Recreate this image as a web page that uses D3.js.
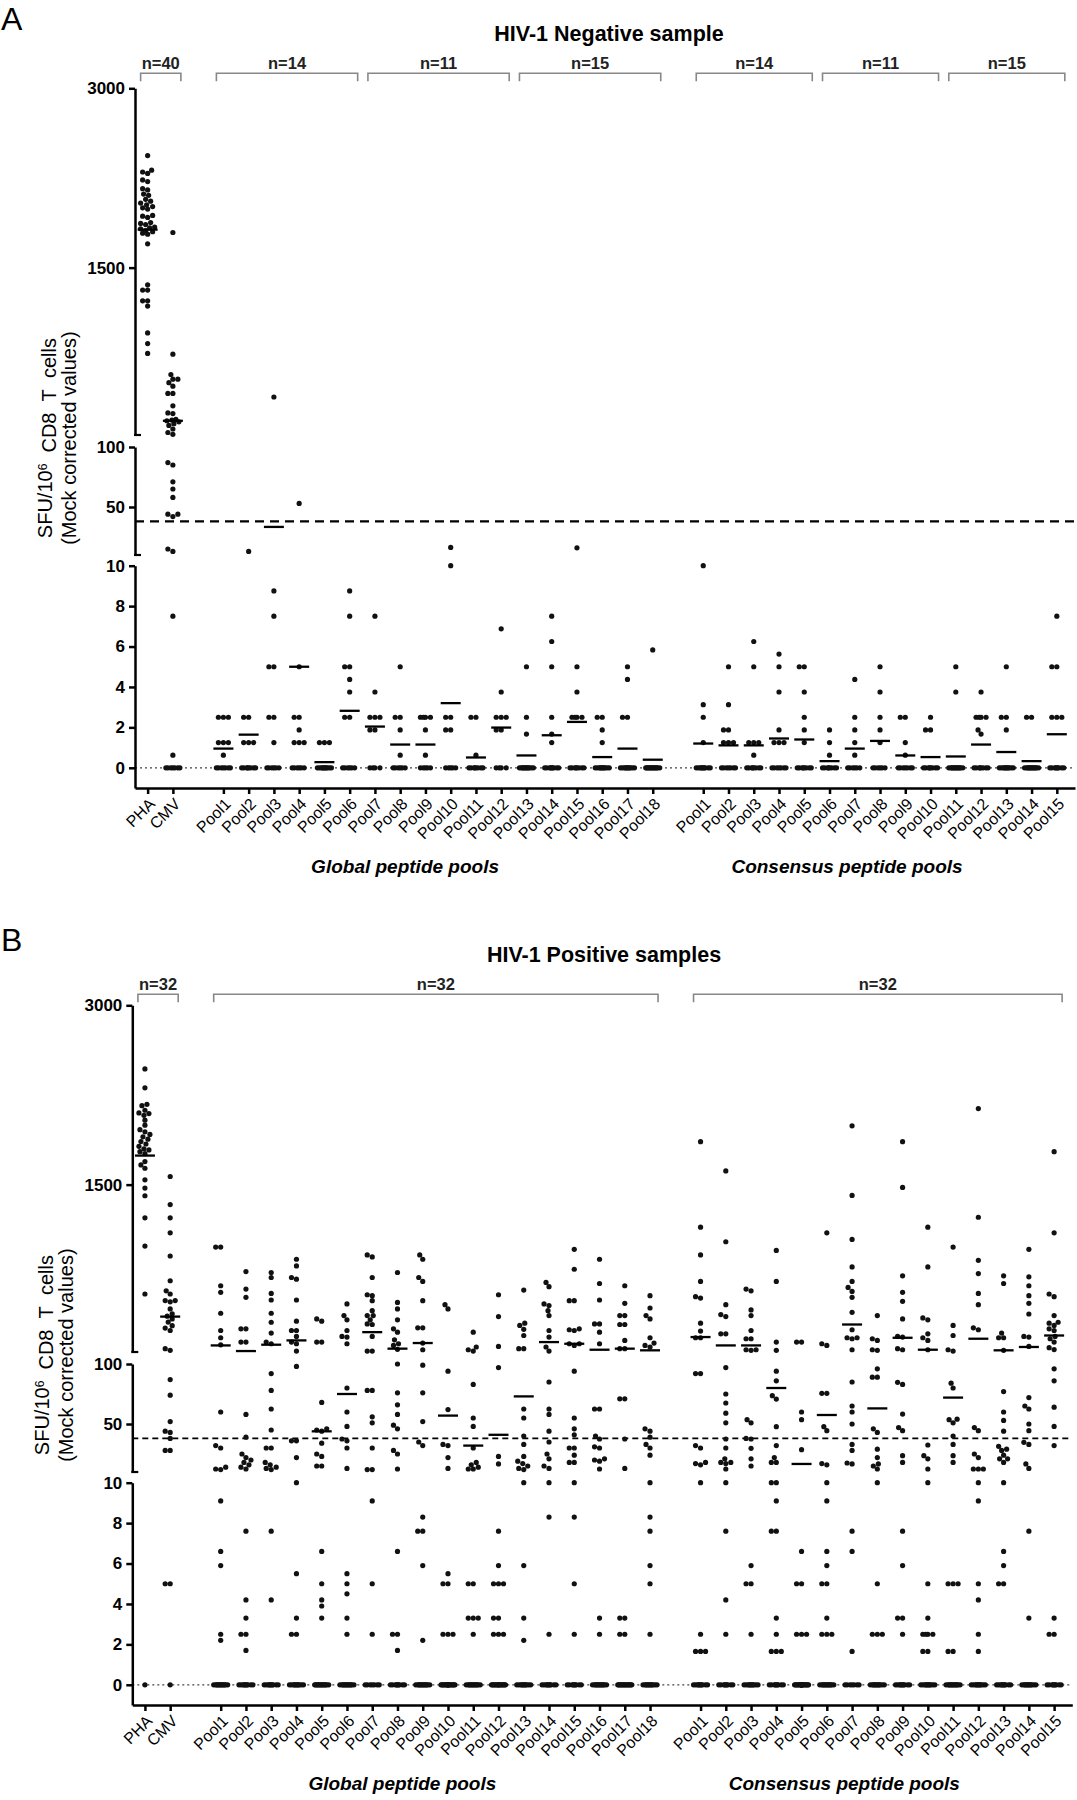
<!DOCTYPE html>
<html>
<head>
<meta charset="utf-8">
<script src="https://cdn.jsdelivr.net/npm/d3@7"></script>
<style>
    body { margin: 0; background: #fff; }
    svg { display: block; font-family: Arial, "Liberation Sans", Helvetica, sans-serif; }
    .axis path, .axis line { stroke: #000; stroke-width: 2.5; }
    .axis text { fill: #000; }
    .yaxis text { font-size: 17px; font-weight: bold; }
    .xaxis text { font-size: 16px; }
</style>
</head>
<body>
<div id="chart"></div>
<script>
// ---- categories ----
var controlLabels = ["PHA", "CMV"];
var globalLabels = ["Pool1", "Pool2", "Pool3", "Pool4", "Pool5", "Pool6", "Pool7", "Pool8", "Pool9",
    "Pool10", "Pool11", "Pool12", "Pool13", "Pool14", "Pool15", "Pool16", "Pool17", "Pool18"];
var consensusLabels = ["Pool1", "Pool2", "Pool3", "Pool4", "Pool5", "Pool6", "Pool7", "Pool8",
    "Pool9", "Pool10", "Pool11", "Pool12", "Pool13", "Pool14", "Pool15"];
var groupTitles = ["Global peptide pools", "Consensus peptide pools"];

// ---- y axis ticks (broken axis) ----
var topTicks = [1500, 3000];
var midTicks = [50, 100];
var lowTicks = [0, 2, 4, 6, 8, 10];
var threshold = 38;

// ---- HIV-1 negative sample: non-zero values, number of zero values, means ----
var negControlValues = [
    [2437, 2315, 2300, 2288, 2234, 2220, 2160, 2150, 2115, 2105, 2071, 2056, 2040, 2026, 2011, 2000,
     1990, 1937, 1930, 1920, 1877, 1870, 1860, 1840, 1833, 1825, 1810, 1800, 1788, 1780, 1699,
     1356, 1312, 1312, 1222, 1222, 1178, 954, 865, 782],
    [1794, 776, 606, 567, 567, 538, 508, 448, 448, 344, 285, 279, 230, 225, 219, 210, 195, 180, 150,
     121, 106, 87, 85, 71, 65, 58, 44, 44, 42, 15, 13, 7.5, 0.625]
];
var negControlZeros = [0, 7];
var negControlMeans = [1818, 219];

var negGlobalValues = [
    [2.5, 2.5, 2.5, 1.25, 1.25, 1.25, 0.625],
    [13, 2.5, 2.5, 1.25, 1.25, 1.25],
    [418, 8.75, 7.5, 5, 5, 2.5, 2.5, 1.25],
    [53, 5, 2.5, 2.5, 1.875, 1.25, 1.25, 1.25],
    [1.25, 1.25, 1.25],
    [8.75, 7.5, 5, 5, 4.375, 3.75, 2.5, 2.5],
    [7.5, 3.75, 2.5, 2.5, 2.5, 1.875, 1.875],
    [5, 2.5, 2.5, 1.875, 0.625],
    [2.5, 2.5, 2.5, 2.5, 1.875, 0.625],
    [16.3, 10, 2.5, 2.5, 1.875, 1.875],
    [2.5, 2.5, 0.625],
    [6.875, 3.75, 2.5, 2.5, 2.5, 1.875, 1.875],
    [5, 2.5, 1.667],
    [7.5, 6.25, 5, 2.5, 1.667, 1.25],
    [16, 5, 3.75, 2.5, 2.5, 2.5, 2.5],
    [2.5, 2.5, 1.875, 1.25],
    [5, 4.375, 2.5, 2.5],
    [5.833]
];
var negGlobalZeros = [7, 8, 6, 6, 11, 6, 4, 6, 5, 5, 8, 4, 12, 9, 8, 11, 11, 14];
var negGlobalMeans = [0.95, 1.64, 33.4, 5, 0.28, 2.82, 2.04, 1.15, 1.15, 3.2, 0.51, 1.99, 0.61, 1.61,
    2.27, 0.53, 0.95, 0.4];

var negConsensusValues = [
    [10, 3.125, 2.5, 1.25],
    [5, 3.125, 1.875, 1.875, 1.25, 1.25, 1.25],
    [6.25, 5, 1.25, 1.25, 1.25, 0.625],
    [5.625, 5, 3.75, 1.875, 1.25, 1.25, 1.25],
    [5, 5, 3.75, 2.5, 1.875, 1.25],
    [1.875, 1.25, 0.625],
    [4.375, 2.5, 1.875, 1.25, 0.625],
    [5, 3.75, 2.5, 1.875, 1.25],
    [2.5, 2.5, 1.25, 0.625],
    [2.5, 1.875, 1.875],
    [5, 3.75],
    [3.75, 2.5, 2.5, 2.5, 2.5, 1.875, 1.667],
    [5, 2.5, 2.5, 1.875],
    [2.5, 2.5],
    [7.5, 5, 5, 2.5, 2.5, 2.5]
];
var negConsensusZeros = [10, 7, 8, 7, 8, 8, 6, 6, 7, 8, 13, 8, 11, 13, 9];
var negConsensusMeans = [1.2, 1.11, 1.11, 1.45, 1.4, 0.33, 0.95, 1.33, 0.61, 0.53, 0.56, 1.15, 0.78,
    0.33, 1.66];

var negBrackets = [
    ["n=40", 0, 0, 1], ["n=14", 1, 0, 5], ["n=11", 1, 6, 11], ["n=15", 1, 12, 17],
    ["n=14", 2, 0, 4], ["n=11", 2, 5, 9], ["n=15", 2, 10, 14]
];

// ---- HIV-1 positive samples ----
var posControlValues = [
    [2468, 2310, 2172, 2160, 2122, 2100, 2094, 2080, 2039, 1997, 1960, 1942, 1920, 1900, 1880, 1860,
     1840, 1820, 1800, 1790, 1776, 1760, 1693, 1665, 1637, 1540, 1471, 1407, 1222, 986, 585],
    [1568, 1333, 1222, 1097, 903, 696, 612, 585, 530, 530, 520, 460, 420, 400, 377, 350, 320, 300,
     280, 128, 114, 87, 74, 52, 44, 43, 38, 28, 28, 5, 5]
];
var posControlZeros = [1, 1];
var posControlMeans = [1743, 396];

var posGlobalValues = [
    [978, 978, 654, 599, 424, 280, 219, 160, 60, 32, 30, 14, 12.5, 12, 9.1, 6.6, 5.9, 2.5, 2.2],
    [773, 626, 557, 294, 294, 183, 183, 58, 39, 25, 22, 20, 18, 16, 14, 12.5, 7.6, 4.2, 3.3, 2.5, 2.5, 1.7],
    [765, 723, 590, 535, 424, 349, 258, 183, 169, 92, 78, 62.5, 45, 30, 30, 18, 16, 14, 13, 12, 7.6, 4.2],
    [876, 820, 723, 709, 535, 358, 280, 280, 230, 183, 169, 108, 98, 36, 36, 22, 10, 5.5, 3.3, 2.5, 2.5],
    [377, 358, 183, 183, 68, 46, 45, 44, 34, 25, 23, 15, 15, 6.6, 5, 4.2, 3.9, 3.3],
    [502, 405, 369, 280, 230, 225, 169, 80, 60, 48, 37.5, 36, 30, 13, 5.5, 5, 4.5, 3.3, 2.5],
    [912, 895, 723, 579, 571, 529, 446, 405, 405, 369, 335, 330, 230, 108, 108, 78, 78, 56, 51, 30, 12,
     12, 9.1, 5, 2.5],
    [765, 515, 460, 369, 294, 266, 202, 169, 155, 122, 100, 76, 66, 58, 49, 46, 28, 25, 12.5, 6.6, 2.5,
     2.5, 1.7],
    [912, 876, 723, 690, 529, 302, 302, 175, 119, 99, 76, 52, 35, 32, 8.3, 7.6, 7.6, 5.9, 2.2],
    [496, 460, 94, 62, 33, 32, 22, 13, 5.5, 5, 5, 2.5, 2.5, 2.5],
    [266, 142, 119, 108, 83, 55, 48, 30, 18, 16, 14, 12.5, 12.5, 5, 5, 3.3, 3.3, 3.3, 2.5],
    [579, 396, 147, 97, 23, 16.7, 7.6, 5.9, 5, 5, 5, 3.3, 3.3, 2.5, 2.5, 2.5],
    [618, 341, 322, 290, 238, 128, 128, 62.5, 55, 40, 33, 23, 19, 17, 15, 13, 12, 10, 5.9, 3.3, 2.2],
    [682, 646, 502, 488, 446, 405, 280, 225, 142, 108, 85, 62.5, 58, 44, 35, 25, 21, 15, 13, 10, 8.3, 2.5],
    [959, 792, 529, 529, 294, 286, 280, 169, 169, 155, 94, 55, 46, 41, 30, 30, 24, 18, 18, 10, 8.3, 5, 2.5],
    [876, 673, 535, 335, 335, 266, 169, 62.5, 62.5, 40, 37.5, 31, 30, 21, 20, 19, 12.5, 3.3, 2.5],
    [654, 507, 405, 405, 330, 330, 197, 128, 128, 71, 71, 37.5, 13, 3.3, 3.3, 2.5, 2.5],
    [571, 468, 405, 377, 219, 175, 155, 142, 46, 44, 39, 33, 30, 24, 10, 8.3, 7.6, 5.9, 5, 2.5]
];
var posGlobalZeros = [13, 10, 10, 11, 14, 13, 7, 9, 13, 18, 13, 16, 11, 10, 9, 13, 15, 12];
var posGlobalMeans = [155, 108, 161, 197, 43.9, 75, 266, 128, 175, 57, 32, 41, 73, 183, 169, 119, 128, 114];

var posConsensusValues = [
    [1859, 1144, 912, 690, 563, 551, 341, 275, 219, 219, 92, 92, 32, 30, 18, 17, 16, 10, 2.5, 1.65, 1.65, 1.65],
    [1615, 1022, 496, 413, 396, 252, 252, 97, 75, 67.5, 59, 51, 37.5, 30, 21, 18, 18, 17, 12.5, 10, 7.6,
     4.2, 2.5],
    [626, 612, 452, 405, 280, 211, 211, 119, 119, 114, 53.6, 51, 38, 37.5, 29.7, 21, 15, 5.9, 5, 5, 2.5],
    [950, 690, 183, 114, 94, 86, 73.6, 70.8, 47.8, 32, 22, 18, 18, 10, 10, 9.1, 7.6, 7.6, 3.3, 2.5, 1.65,
     1.65, 1.65],
    [183, 183, 60, 53.6, 28.6, 6.6, 5, 5, 2.5, 2.5, 2.5],
    [1097, 169, 155, 75.6, 75.6, 47.8, 44.4, 17, 16, 10, 9.1, 6.6, 5.9, 5, 5, 3.3, 2.5, 2.5, 2.5],
    [1992, 1410, 1042, 812, 690, 640, 607, 557, 432, 286, 219, 219, 211, 119, 85, 65, 60, 50, 33, 28,
     17.5, 16.7, 7.6, 6.6, 1.65],
    [405, 211, 197, 119, 114, 96, 89, 89, 46, 43, 29, 22, 16.7, 15, 12.5, 10, 5, 2.5, 2.5, 2.5],
    [1859, 1477, 737, 599, 524, 377, 230, 225, 128, 119, 84.7, 83, 58.3, 47, 44.4, 23.6, 18, 7.6, 5.9,
     3.3, 3.3, 2.5],
    [1144, 812, 385, 369, 252, 219, 197, 119, 32.5, 23.6, 21, 12.5, 10, 5, 3.3, 2.5, 2.5, 2.5, 2.5,
     1.65, 1.65],
    [978, 322, 238, 119, 108, 84, 80, 54, 53.6, 51, 40, 33, 23.6, 18, 5, 5, 5, 1.65, 1.65],
    [2136, 1227, 867, 756, 590, 496, 302, 286, 47, 44.4, 25, 22, 12.5, 12.5, 12.5, 10, 9.1, 5, 4.2, 2.5, 1.65],
    [737, 673, 258, 219, 219, 114, 77, 60, 53, 44, 31.4, 29, 28, 24, 21, 21, 18, 10, 6.6, 5.9, 5, 5],
    [959, 729, 654, 571, 507, 418, 230, 225, 147, 72, 65, 62.5, 50, 44.4, 34.7, 33, 16.7, 13, 7.6, 3.3],
    [1776, 1097, 585, 563, 405, 349, 341, 322, 294, 280, 230, 211, 183, 136, 120, 96, 86, 64, 48, 32,
     3.3, 2.5, 2.5]
];
var posConsensusZeros = [10, 9, 11, 9, 21, 13, 7, 12, 10, 11, 13, 11, 10, 12, 9];
var posConsensusMeans = [225, 155, 155, 80, 16.7, 57.5, 330, 63, 219, 119, 72, 211, 114, 142, 238];

var posBrackets = [["n=32", 0, 0, 1], ["n=32", 1, 0, 17], ["n=32", 2, 0, 14]];

// ---- drawing ----
var WIDTH = 1077, HEIGHT = 1800;
var DOT_R = 2.6, MAX_OFF = 7;

var svg = d3.select("#chart").append("svg")
    .attr("width", WIDTH)
    .attr("height", HEIGHT);

function buildGroups(values, zeros, means) {
    var labels = [controlLabels, globalLabels, consensusLabels];
    var slot = 0;
    return labels.map(function (lab, gi) {
        var grp = {start: slot, cats: lab.map(function (l, i) {
            return {
                label: l,
                slot: slot + i,
                values: values[gi][i].concat(d3.range(zeros[gi][i]).map(function () { return 0; })),
                mean: means[gi][i]
            };
        })};
        slot += lab.length + 1;
        return grp;
    });
}

// simple beeswarm: spread close points sideways within +-MAX_OFF px
function swarm(points) {
    var offs = [0];
    for (var k = 1; k <= MAX_OFF; k++) offs.push(-k, k);
    var placed = [];
    points.sort(function (a, b) { return b.y - a.y; });
    points.forEach(function (p) {
        var best = 0, bestD = -1;
        for (var j = 0; j < offs.length; j++) {
            var o = offs[j], md = Infinity;
            placed.forEach(function (q) {
                var dx = q.dx - o, dy = q.y - p.y;
                md = Math.min(md, Math.sqrt(dx * dx + dy * dy));
            });
            if (md >= DOT_R * 2 - 0.2) { best = o; break; }
            if (md > bestD) { bestD = md; best = o; }
        }
        p.dx = best;
        placed.push(p);
    });
    return points;
}

function drawPanel(opt) {
    var oy = opt.oy, ox = opt.ox, hy = opt.hy;
    var g = svg.append("g");
    var x0 = 135 + ox, x1 = 1075 + ox;

    var x = d3.scaleLinear().domain([-0.5, 36.72]).range([x0, x1]);
    var yTop = d3.scaleLinear().domain([100, 3000]).range([435 + oy, 88.3 + oy]);
    var yMid = d3.scaleLinear().domain([10, 100]).range([555 + oy, 447 + oy]);
    var yLow = d3.scaleLinear().domain([-1, 10]).range([788 + oy, 565.7 + oy]);

    function y(v) {
        return v > 100 ? yTop(v) : (v > 10 ? yMid(v) : yLow(v));
    }

    var groups = buildGroups(opt.values, opt.zeros, opt.means);
    var cats = [];
    groups.forEach(function (gr) { cats = cats.concat(gr.cats); });

    // panel letter + title
    g.append("text").attr("x", 1).attr("y", 30 + hy)
        .style("font-size", "32px").text(opt.letter);
    g.append("text").attr("x", opt.titleX).attr("y", 41 + hy)
        .attr("text-anchor", "middle")
        .style("font-size", "21.5px").style("font-weight", "bold")
        .text(opt.title);

    // n= brackets
    opt.brackets.forEach(function (b) {
        var cs = groups[b[1]].cats;
        var bx0 = x(cs[b[2]].slot) - 7, bx1 = x(cs[b[3]].slot) + 8;
        var by = 73.3 + hy;
        g.append("path")
            .attr("d", "M" + bx0 + "," + (by + 8) + "V" + by + "H" + bx1 + "V" + (by + 8))
            .attr("fill", "none").attr("stroke", "#888").attr("stroke-width", 1.6);
        g.append("text").attr("x", (bx0 + bx1) / 2).attr("y", by - 4)
            .attr("text-anchor", "middle")
            .style("font-size", "16.5px").style("font-weight", "bold").style("fill", "#222")
            .text(b[0]);
    });

    // reference lines
    g.append("line").attr("x1", x0).attr("x2", x1)
        .attr("y1", yLow(0)).attr("y2", yLow(0))
        .attr("stroke", "#444").attr("stroke-width", 1.3).attr("stroke-dasharray", "2,3");
    g.append("line").attr("x1", x0).attr("x2", x1)
        .attr("y1", y(threshold)).attr("y2", y(threshold))
        .attr("stroke", "#000").attr("stroke-width", opt.dashW).attr("stroke-dasharray", opt.dash);

    // y axis segments
    [[yTop, topTicks], [yMid, midTicks], [yLow, lowTicks]].forEach(function (s) {
        g.append("g").attr("class", "axis yaxis")
            .attr("transform", "translate(" + x0 + ",0)")
            .call(d3.axisLeft(s[0]).tickValues(s[1]).tickFormat(d3.format("d"))
                .tickSize(6).tickSizeOuter(0).tickPadding(4));
    });
    // break caps
    [yTop(100), yMid(10)].forEach(function (yy) {
        g.append("line").attr("x1", x0 - 1).attr("x2", x0 + 6)
            .attr("y1", yy).attr("y2", yy)
            .attr("stroke", "#000").attr("stroke-width", 2.2);
    });

    // x axis
    var xa = g.append("g").attr("class", "axis xaxis")
        .attr("transform", "translate(0," + yLow(-1) + ")")
        .call(d3.axisBottom(x)
            .tickValues(cats.map(function (c) { return c.slot; }))
            .tickFormat(function (d, i) { return cats[i].label; })
            .tickSize(6).tickSizeOuter(0));
    xa.selectAll(".tick line").attr("stroke-width", 2.2);
    xa.selectAll("text")
        .attr("x", 0).attr("y", 0).attr("dy", "0.35em")
        .attr("text-anchor", "end")
        .attr("transform", "translate(4,13) rotate(-45)");

    // group titles under the pools
    [groups[1], groups[2]].forEach(function (gr, i) {
        var cs = gr.cats;
        var cx = (x(cs[0].slot) + x(cs[cs.length - 1].slot)) / 2 - 33;
        g.append("text").attr("x", cx).attr("y", 873 + oy)
            .attr("text-anchor", "middle")
            .style("font-size", "19px").style("font-weight", "bold").style("font-style", "italic")
            .text(groupTitles[i]);
    });

    // y axis title
    var cyl = (88.3 + 788) / 2 + oy;
    var t1 = g.append("text")
        .attr("transform", "translate(" + (52 + ox) + "," + cyl + ") rotate(-90)")
        .attr("text-anchor", "middle").style("font-size", "20px");
    t1.append("tspan").text("SFU/10");
    t1.append("tspan").attr("dy", "-0.45em").style("font-size", "12px").text("6");
    t1.append("tspan").attr("dy", "0.45em").text("\u00a0\u00a0CD8\u00a0\u00a0T\u00a0\u00a0cells");
    g.append("text")
        .attr("transform", "translate(" + (76 + ox) + "," + cyl + ") rotate(-90)")
        .attr("text-anchor", "middle").style("font-size", "20px")
        .text("(Mock corrected values)");

    // dots and mean lines
    var dots = g.append("g");
    var means = g.append("g");
    cats.forEach(function (c) {
        var cx = x(c.slot);
        var pts = swarm(c.values.map(function (v) { return {v: v, y: y(v)}; }));
        dots.selectAll(null).data(pts).enter().append("circle")
            .attr("cx", function (d) { return cx + d.dx; })
            .attr("cy", function (d) { return d.y; })
            .attr("r", DOT_R)
            .attr("fill", "#111");
        means.append("line")
            .attr("x1", cx - 10).attr("x2", cx + 10)
            .attr("y1", y(c.mean)).attr("y2", y(c.mean))
            .attr("stroke", "#000").attr("stroke-width", 2.3);
    });
}

drawPanel({
    letter: "A", title: "HIV-1 Negative sample", oy: 0, ox: 0, hy: 0, titleX: 609,
    values: [negControlValues, negGlobalValues, negConsensusValues],
    zeros: [negControlZeros, negGlobalZeros, negConsensusZeros],
    means: [negControlMeans, negGlobalMeans, negConsensusMeans],
    brackets: negBrackets, dash: "9,6", dashW: 2.2
});

drawPanel({
    letter: "B", title: "HIV-1 Positive samples", oy: 917, ox: -2.7, hy: 921, titleX: 604,
    values: [posControlValues, posGlobalValues, posConsensusValues],
    zeros: [posControlZeros, posGlobalZeros, posConsensusZeros],
    means: [posControlMeans, posGlobalMeans, posConsensusMeans],
    brackets: posBrackets, dash: "6,4", dashW: 1.6
});
</script>
</body>
</html>
